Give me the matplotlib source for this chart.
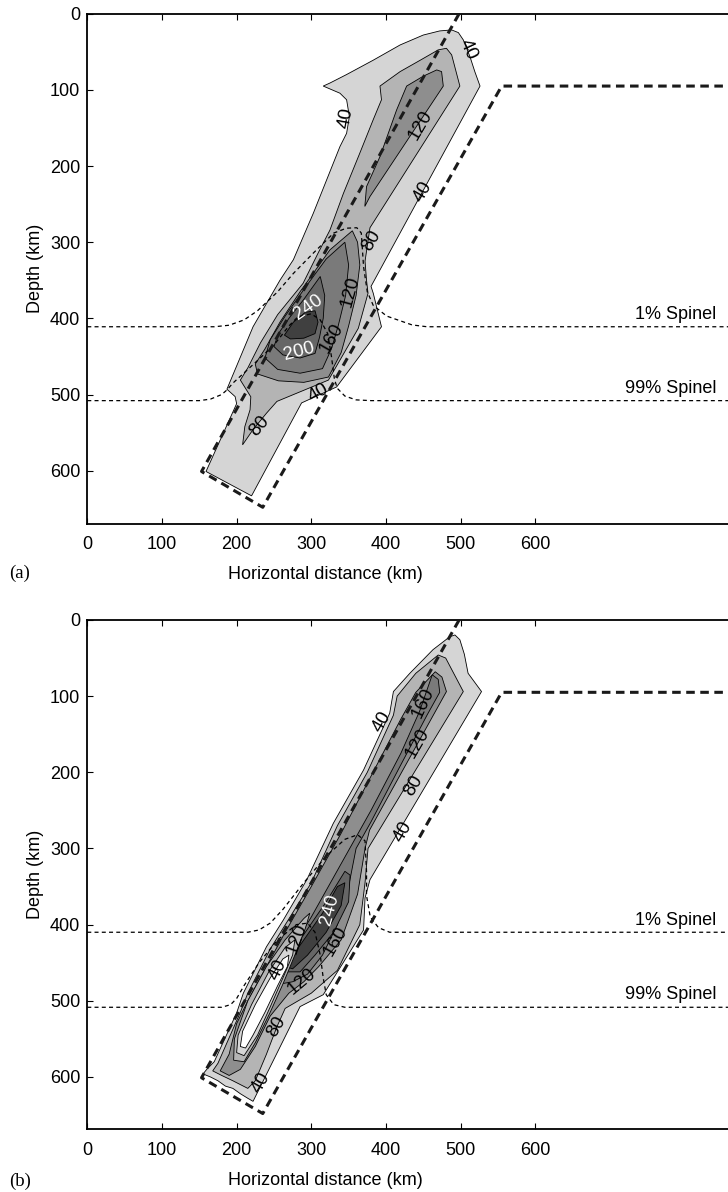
import matplotlib.pyplot as plt

plt.rcParams['font.family'] = ['Liberation Sans', 'DejaVu Sans']

# contour levels and their fill shades (region above each level)
levels = [40, 80, 120, 160, 200, 240]
fills = ['#d5d5d5', '#b4b4b4', '#8e8e8e', '#7a7a7a', '#666666', '#404040']

xticks = [0, 100, 200, 300, 400, 500, 600]
yticks = [0, 100, 200, 300, 400, 500, 600]

# slab outline (thick dashed)
slab_x = [498, 153, 235, 555, 870]
slab_y = [0, 601, 648, 95, 95]

# ---- panel (a) ----
a_c40 = [(316, 95), (325, 91), (347, 80), (383, 61), (419, 41), (450, 28), (472, 22.6),
         (488, 21.3), (497, 24.8), (503.6, 34.4), (512.5, 56.3), (519, 76), (526, 95),
         (380, 358), (383, 367), (394, 411), (334, 490), (287, 511), (220, 633), (159, 601),
         (162, 594.5), (200, 512), (198, 502.7), (187, 493), (222, 411), (258, 350), (276, 323),
         (302.7, 262), (338.4, 174.4), (347.3, 157), (351, 135), (347.3, 113), (338.4, 104.4)]
a_c80 = [(392, 95), (419, 76), (446, 61), (470, 47.5), (481, 45.4), (488, 54), (499, 95),
         (378.6, 281), (372, 325), (374, 350), (376, 367), (363, 413), (323, 481), (254, 509),
         (240, 524.5), (222, 546), (208, 566), (211, 542), (218, 520), (219, 503), (205, 481),
         (215, 465), (232, 432), (255, 395), (289, 354), (309, 314.5), (325, 284), (343, 236),
         (365, 183), (383, 139), (394, 113)]
a_c120_up = [(427.7, 95), (450, 82), (468, 73.8), (474.5, 76), (476.8, 95), (378.6, 240),
             (371.7, 253), (374, 227), (392, 187.6), (414.3, 126.3)]
a_c120 = [(355, 285), (362, 300), (365, 330), (360, 370), (350, 410), (340, 445), (323, 477),
          (290, 484), (256, 482), (228, 473), (225, 460), (238, 440), (258, 405), (285, 365),
          (325, 310)]
a_c160 = [(345, 300), (350, 330), (346, 370), (336, 410), (327, 440), (315, 466), (285, 472),
          (255, 467), (238, 452), (245, 428), (265, 397), (293, 358), (320, 322)]
a_c200 = [(312, 345), (318, 370), (316, 400), (311, 425), (305, 446), (285, 452), (262, 448),
          (250, 437), (256, 420), (270, 400), (290, 375)]
a_c240 = [(264, 422), (276, 405), (292, 392), (305, 390), (309, 405), (305, 420), (290, 426),
          (272, 427)]
a_peaks = [(0, a_c40), (1, a_c80), (2, a_c120_up), (2, a_c120), (3, a_c160), (4, a_c200),
           (5, a_c240)]
a_valleys = []

a_sp1 = [(0, 411), (170, 411), (190, 409), (210, 402), (228, 390), (255, 365), (276, 341),
         (303, 314), (330, 288), (347, 281.6), (361, 281), (367, 288), (370, 332), (375, 365),
         (383, 383), (401, 397), (435, 408.6), (455, 411), (870, 411)]
a_sp99 = [(0, 508), (150, 508), (165, 506), (180, 500), (187, 494), (195, 485), (205, 476),
          (225, 458), (250, 435), (270, 410), (282, 398), (300, 394), (312, 402), (322, 420),
          (327, 450), (331, 480), (335, 492), (345, 502), (360, 507), (380, 508), (870, 508)]

a_labels = [(347, 137, '40', 80, 'k'), (510, 47, '40', -65, 'k'), (446, 146, '120', 60, 'k'),
            (450, 234, '40', 60, 'k'), (380, 298, '80', 60, 'k'), (352, 365, '120', 75, 'k'),
            (296, 386, '240', 35, 'w'), (283, 444, '200', 15, 'w'), (327, 426, '160', 60, 'k'),
            (309, 498, '40', 30, 'k'), (230, 542, '80', 50, 'k')]

# ---- panel (b) ----
b_c40 = [(485.7, 21.9), (492.4, 19.7), (499, 26), (505, 45), (510, 70), (528, 94),
         (378.6, 341), (372, 365), (370, 407), (316, 492), (285, 507.6), (222, 632), (215, 628),
         (205, 622), (195, 615), (185, 612), (175, 605), (165, 600), (155, 596), (160, 590),
         (170, 580), (200, 516), (209, 490), (240, 429), (262.5, 394), (294, 341), (329.5, 267),
         (370, 197), (405, 122.5), (410, 94), (432, 70), (463, 39)]
b_c80 = [(470, 46), (480, 50), (503.6, 94), (376, 300), (372, 345), (365, 400), (335, 460),
         (300, 490), (265, 510), (254, 534), (240, 570), (225, 605), (215, 615), (195, 605),
         (180, 598), (168, 592), (175, 582), (205, 515), (215, 490), (245, 432), (300, 345),
         (335, 270), (375, 200), (410, 125), (415, 100), (440, 70)]
b_c120 = [(466, 68), (475, 75), (481, 94), (378, 276), (372, 300), (362, 360), (340, 420),
          (310, 455), (290, 475), (270, 490), (245, 520), (225, 560), (205, 590), (190, 598),
          (178, 592), (190, 570), (200, 530), (215, 500), (240, 455), (265, 410), (300, 350),
          (340, 280), (380, 205), (420, 130), (440, 95)]
b_c160 = [(462, 72), (470, 78), (472, 95), (455, 125), (420, 190), (380, 265), (360, 300),
          (350, 350), (335, 400), (315, 440), (295, 465), (275, 475), (258, 478), (262, 460),
          (275, 430), (300, 390), (340, 320), (380, 250), (420, 175), (445, 120)]
b_c200 = [(258, 462), (285, 420), (320, 370), (345, 330), (352, 335), (350, 370), (330, 410),
          (305, 440), (285, 462)]
b_c240 = [(265, 455), (290, 420), (315, 385), (335, 350), (345, 345), (340, 375), (320, 410),
          (295, 440), (275, 458)]
# low-value hole inside the slab: rings drawn from the outside in
b_v120 = [(196, 578), (197, 550), (215, 500), (240, 455), (265, 420), (290, 392), (298, 385),
          (292, 405), (278, 440), (262, 478), (245, 515), (225, 555), (210, 580)]
b_v80 = [(200, 568), (202, 545), (220, 505), (243, 462), (265, 430), (278, 420), (275, 440),
         (262, 470), (245, 508), (228, 545), (210, 572)]
b_v40 = [(205, 560), (208, 540), (225, 505), (245, 470), (262, 445), (270, 440), (268, 455),
         (255, 480), (238, 515), (222, 545), (212, 562)]
b_peaks = [(0, b_c40), (1, b_c80), (2, b_c120), (3, b_c160), (4, b_c200), (5, b_c240)]
b_valleys = [(1, b_v120), (0, b_v80), (-1, b_v40)]

b_sp1 = [(0, 410), (215, 410), (230, 407), (245, 398), (262, 380), (290, 345), (320, 310),
         (345, 288), (362, 282), (372, 290), (374, 330), (374, 362), (379, 390), (390, 404),
         (405, 410), (870, 410)]
b_sp99 = [(0, 508.5), (180, 508.5), (192, 505), (200, 497), (210, 480), (230, 450), (255, 420),
          (280, 400), (295, 398), (305, 410), (312, 440), (316, 470), (320, 492), (330, 505),
          (345, 508.5), (870, 508.5)]

b_labels = [(394, 133, '40', 60, 'k'), (450, 109, '160', 65, 'k'), (443, 162, '120', 60, 'k'),
            (437, 217, '80', 60, 'k'), (423, 278, '40', 60, 'k'), (325, 381, '240', 75, 'w'),
            (280, 418, '120', 70, 'k'), (332, 422, '160', 60, 'k'), (256, 459, '40', 65, 'k'),
            (287, 475, '120', 40, 'k'), (254, 534, '80', 60, 'k'), (233, 608, '40', 60, 'k')]

fig = plt.figure(figsize=(7.28, 11.92), dpi=100)
ax_a = fig.add_axes([0.1199, 0.5607, 0.8923, 0.4278])
ax_b = fig.add_axes([0.1199, 0.0526, 0.8923, 0.4273])

panels = [(ax_a, a_peaks, a_valleys, a_sp1, a_sp99, a_labels, 669.5),
          (ax_b, b_peaks, b_valleys, b_sp1, b_sp99, b_labels, 668.7)]

for ax, peaks, valleys, sp1, sp99, labels, ymax in panels:
    for i, poly in peaks:
        xs, ys = zip(*poly)
        ax.fill(xs, ys, facecolor=fills[i], edgecolor='k', lw=0.6, zorder=2)
    for i, poly in valleys:
        xs, ys = zip(*poly)
        fc = 'white' if i < 0 else fills[i]
        ax.fill(xs, ys, facecolor=fc, edgecolor='k', lw=0.6, zorder=2)
    for sp in (sp1, sp99):
        xs, ys = zip(*sp)
        ax.plot(xs, ys, color='k', lw=0.9, ls=(0, (3.2, 2.6)), zorder=3)
    ax.plot(slab_x, slab_y, color='#1a1a1a', lw=2.2, ls=(0, (2.8, 1.8)), zorder=4)
    for x, y, s, rot, c in labels:
        ax.text(x, y, s, rotation=rot, color=c, fontsize=13.5, ha='center', va='center',
                rotation_mode='anchor', zorder=5)
    ax.text(843, 406, '1% Spinel', fontsize=13, ha='right', va='bottom', zorder=5)
    ax.text(843, 503, '99% Spinel', fontsize=13, ha='right', va='bottom', zorder=5)

    ax.set_xlim(0, 870)
    ax.set_ylim(ymax, 0)
    ax.set_xticks(xticks)
    ax.set_yticks(yticks)
    ax.tick_params(direction='in', top=True, right=False, labelsize=13, length=4,
                   width=0.8)
    ax.tick_params(axis='x', pad=9)
    ax.tick_params(axis='y', pad=5)
    for sp in ax.spines.values():
        sp.set_linewidth(1.3)
    ax.set_xlabel('Horizontal distance (km)', fontsize=13)
    ax.xaxis.set_label_coords(0.366, -0.083)
    ax.set_ylabel('Depth (km)', fontsize=13)

fig.text(0.013, 0.519, '(a)', family='Liberation Serif', fontsize=13.5, va='center')
fig.text(0.013, 0.009, '(b)', family='Liberation Serif', fontsize=13.5, va='center')

fig.savefig('out.png', dpi=100)
